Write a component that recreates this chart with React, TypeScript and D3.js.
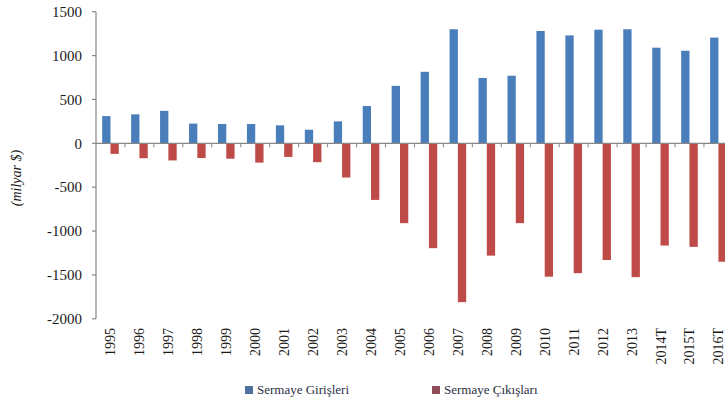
import React from 'react';
import * as d3 from 'd3';

const years = ['1995', '1996', '1997', '1998', '1999', '2000', '2001', '2002', '2003', '2004', '2005', '2006', '2007', '2008', '2009', '2010', '2011', '2012', '2013', '2014T', '2015T', '2016T'];
const inflows = [310, 330, 370, 225, 220, 220, 205, 155, 250, 425, 655, 815, 1300, 745, 770, 1280, 1230, 1295, 1300, 1090, 1055, 1205];
const outflows = [-120, -170, -195, -168, -175, -220, -155, -215, -390, -645, -910, -1195, -1810, -1280, -910, -1520, -1480, -1330, -1525, -1165, -1180, -1350];
const yTicks = [1500, 1000, 500, 0, -500, -1000, -1500, -2000];
const seriesNames = ['Sermaye Girişleri', 'Sermaye Çıkışları'];

const colors = {
  axis: '#868686',
  text: '#1a1a1a',
  blue: '#4a7ebb',
  red: '#be4b48',
  legendBlue: '#4f6f9c',
  legendRed: '#8f4c58',
};

const FONT = 'Liberation Serif';
const WIDTH = 725;
const HEIGHT = 403;
const LEFT = 96;
const STEP = 28.95;

const App = () => {
  const x = d3.scaleBand().domain(years).range([LEFT, LEFT + STEP * years.length]).padding(0);
  const x1 = d3.scaleBand().domain(['in', 'out']).range([0, x.bandwidth()]).paddingInner(0).paddingOuter(0.744);
  const y = d3.scaleLinear().domain([-2000, 1500]).range([318.8, 11.7]);
  const y0 = y(0);

  const legendItems = [
    { name: seriesNames[0], color: colors.legendBlue, x: 245 },
    { name: seriesNames[1], color: colors.legendRed, x: 432 },
  ];

  return (
    <svg
      width={WIDTH}
      height={HEIGHT}
      viewBox={`0 0 ${WIDTH} ${HEIGHT}`}
      style={{ position: 'absolute', left: 0, top: 0, display: 'block' }}
      fontFamily={FONT}
    >
      {/* bars */}
      {years.map((yr, i) => (
        <rect
          key={`in-${yr}`}
          x={(x(yr) ?? 0) + (x1('in') ?? 0)}
          y={y(inflows[i])}
          width={x1.bandwidth()}
          height={y0 - y(inflows[i])}
          fill={colors.blue}
        />
      ))}
      {years.map((yr, i) => (
        <rect
          key={`out-${yr}`}
          x={(x(yr) ?? 0) + (x1('out') ?? 0)}
          y={y0}
          width={x1.bandwidth()}
          height={y(outflows[i]) - y0}
          fill={colors.red}
        />
      ))}

      {/* y axis */}
      <line x1={LEFT} x2={LEFT} y1={y(1500)} y2={y(-2000)} stroke={colors.axis} strokeWidth={1.2} />
      {yTicks.map((t) => (
        <g key={t}>
          <line x1={LEFT - 4} x2={LEFT} y1={y(t)} y2={y(t)} stroke={colors.axis} strokeWidth={1.2} />
          <text x={LEFT - 14} y={y(t)} dy="0.35em" textAnchor="end" fontSize={15} fill={colors.text} fontFamily={FONT}>
            {t}
          </text>
        </g>
      ))}

      {/* zero line */}
      <line x1={LEFT} x2={LEFT + STEP * years.length} y1={y0} y2={y0} stroke={colors.axis} strokeWidth={1.2} />
      {years.slice(1).map((yr) => (
        <line key={`tk-${yr}`} x1={x(yr)} x2={x(yr)} y1={y0} y2={y0 + 4} stroke={colors.axis} />
      ))}

      {/* x labels */}
      {years.map((yr) => (
        <text
          key={`lb-${yr}`}
          transform={`translate(${(x(yr) ?? 0) + x.bandwidth() / 2 + 5},328) rotate(-90)`}
          textAnchor="end"
          fontSize={14}
          fill={colors.text}
          fontFamily={FONT}
        >
          {yr}
        </text>
      ))}

      {/* y title */}
      <text
        transform="translate(21,178) rotate(-90)"
        textAnchor="middle"
        fontSize={14}
        fontStyle="italic"
        fill={colors.text}
        fontFamily={FONT}
      >
        (milyar $)
      </text>

      {/* legend */}
      {legendItems.map((it) => (
        <g key={it.name}>
          <rect x={it.x} y={386} width={8} height={8} fill={it.color} />
          <text x={it.x + 12} y={394} fontSize={13} fill="#2a2f45" fontFamily={FONT}>
            {it.name}
          </text>
        </g>
      ))}
    </svg>
  );
};

export default App;
